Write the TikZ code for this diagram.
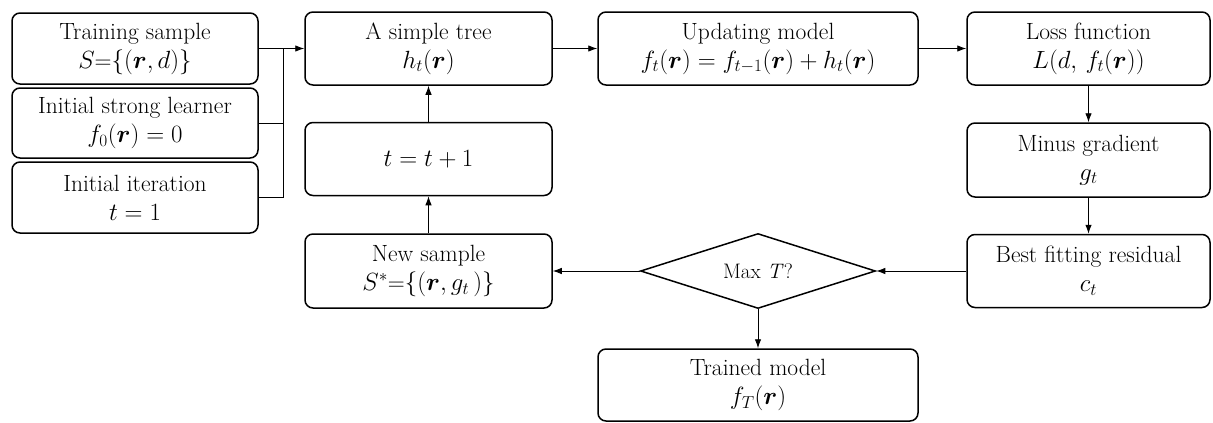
\documentclass[tikz,border=0pt]{standalone}
\usepackage{amsmath}
\usetikzlibrary{arrows.meta,shapes.geometric}
\begin{document}
\begin{tikzpicture}[x=1pt,y=-1pt,
  box/.style={draw, line width=1.5pt, rounded corners=8pt, align=center, inner sep=0pt, font=\fontsize{23.5}{29}\selectfont},
  conn/.style={line width=0.9pt},
  arr/.style={conn, -{Latex[length=9pt,width=6.5pt]}},
]
\useasboundingbox (0,0) rectangle (1213,423);
% left column
\node[box, minimum width=246pt, minimum height=71pt] (ts) at (135,48.5) {Training sample\\$S$=$\{(\boldsymbol{r},d)\}$};
\node[box, minimum width=246pt, minimum height=70pt] (isl) at (135,123) {Initial strong learner\\$f_0(\boldsymbol{r})=0$};
\node[box, minimum width=246pt, minimum height=71pt] (ii) at (135,197.5) {Initial iteration\\$t=1$};
% second column
\node[box, minimum width=247pt, minimum height=73pt] (tree) at (428.5,48.5) {A simple tree\\$h_t(\boldsymbol{r})$};
\node[box, minimum width=247pt, minimum height=73pt] (tinc) at (428.5,159) {$t=t+1$};
\node[box, minimum width=247pt, minimum height=74pt] (ns) at (428.5,271) {New sample\\$S^{*}$=$\{(\boldsymbol{r},g_t\,)\}$};
% third column
\node[box, minimum width=320pt, minimum height=73pt] (upd) at (758,48.5) {Updating model\\$f_t(\boldsymbol{r})=f_{t-1}(\boldsymbol{r})+h_t(\boldsymbol{r})$};
\node[draw, diamond, line width=1.5pt, aspect=3.13, inner sep=0pt, minimum width=235pt, minimum height=75pt, font=\fontsize{21}{26}\selectfont] (dia) at (758,271) {Max \textit{T}?};
\node[box, minimum width=320pt, minimum height=72pt] (tm) at (758,385) {Trained model\\$f_T(\boldsymbol{r})$};
% right column
\node[box, minimum width=243pt, minimum height=73pt] (loss) at (1088.5,48.5) {Loss function\\$L(d,\,f_t(\boldsymbol{r}))$};
\node[box, minimum width=243pt, minimum height=74pt] (mg) at (1088.5,160) {Minus gradient\\$g_t$};
\node[box, minimum width=243pt, minimum height=73pt] (bfr) at (1088.5,271) {Best fitting residual\\$c_t$};
% connectors
\coordinate (j) at (283,48.5);
\draw[arr] (ts.east) -- (tree.west);
\draw[conn] (isl.east) -| (j);
\draw[conn] (ii.east) -| (j);
\draw[arr] (tree.east) -- (upd.west);
\draw[arr] (upd.east) -- (loss.west);
\draw[arr] (loss.south) -- (mg.north);
\draw[arr] (mg.south) -- (bfr.north);
\draw[arr] (bfr.west) -- (dia.east);
\draw[arr] (dia.west) -- (ns.east);
\draw[arr] (dia.south) -- (tm.north);
\draw[arr] (ns.north) -- (tinc.south);
\draw[arr] (tinc.north) -- (tree.south);
\end{tikzpicture}
\end{document}
